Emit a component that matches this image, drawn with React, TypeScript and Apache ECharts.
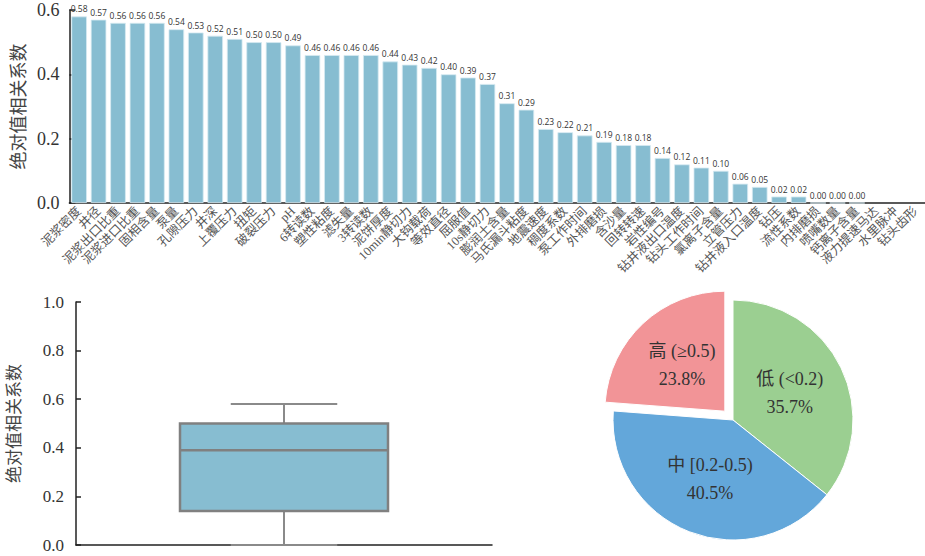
import React, { useEffect, useRef } from "react";
import * as echarts from "echarts";

const categories = [
  "泥浆密度", "井径", "泥浆出口比重", "泥浆进口比重", "固相含量", "泵量", "孔隙压力", "井深",
  "上覆压力", "扭矩", "破裂压力", "pH", "6转读数", "塑性粘度", "滤失量", "3转读数",
  "泥饼厚度", "10min静切力", "大钩载荷", "等效直径", "屈服值", "10s静切力", "膨润土含量",
  "马氏漏斗粘度", "地震速度", "稠度系数", "泵工作时间", "外排磨损", "含沙量", "回转转速",
  "岩性编号", "钻井液出口温度", "钻头工作时间", "氯离子含量", "立管压力", "钻井液入口温度",
  "钻压", "流性系数", "内排磨损", "喷嘴数量", "钙离子含量", "液力提速马达", "水里脉冲", "钻头齿形",
];
const correlations: (number | null)[] = [
  0.58, 0.57, 0.56, 0.56, 0.56, 0.54, 0.53, 0.52, 0.51, 0.50, 0.50, 0.49, 0.46, 0.46, 0.46, 0.46,
  0.44, 0.43, 0.42, 0.40, 0.39, 0.37, 0.31, 0.29, 0.23, 0.22, 0.21, 0.19, 0.18, 0.18, 0.14, 0.12,
  0.11, 0.10, 0.06, 0.05, 0.02, 0.02, 0.0, 0.0, 0.0, null, null, null,
];
// [min, Q1, median, Q3, max]
const boxStats = [0.0, 0.14, 0.39, 0.50, 0.58];
const pieNames = ["低 (<0.2)", "中 [0.2-0.5)", "高 (≥0.5)"];
const pieValues = [35.7, 40.5, 23.8];
const pieColors = ["#9BCF91", "#63A7DA", "#F29497"];

const SERIF = "'Liberation Serif', 'Times New Roman', 'Noto Sans CJK SC', serif";
const SANS = "'Noto Sans CJK SC', 'Noto Sans', sans-serif";
const BAR = "#87BDD1";

export default function App() {
  const ref = useRef<HTMLDivElement>(null);
  useEffect(() => {
    const chart = echarts.init(ref.current!, null, { renderer: "svg" });
    const option: any = {
      animation: false,
      backgroundColor: "#fff",
      grid: [
        { left: 62, top: 10, width: 863, height: 193, containLabel: false },
        { left: 76, top: 302, width: 416, height: 243, containLabel: false },
      ],
      xAxis: [
        {
          type: "category",
          gridIndex: 0,
          data: categories,
          axisLine: { lineStyle: { color: "#222", width: 1.5 } },
          axisTick: { inside: true, alignWithLabel: true, length: 5, lineStyle: { color: "#222", width: 1.5 } },
          axisLabel: {
            interval: 0,
            rotate: 45,
            fontSize: 12.5,
            color: "#555",
            fontFamily: SERIF,
            margin: 6,
          },
        },
        {
          type: "category",
          gridIndex: 1,
          data: [""],
          axisLine: { lineStyle: { color: "#222", width: 1.5 } },
          axisTick: { alignWithLabel: true, length: 4, lineStyle: { color: "#222", width: 1.5 } },
          axisLabel: { show: false },
        },
      ],
      yAxis: [
        {
          type: "value",
          gridIndex: 0,
          min: 0,
          max: 0.6,
          interval: 0.2,
          name: "绝对值相关系数",
          nameLocation: "middle",
          nameGap: 42,
          nameTextStyle: { fontSize: 18, color: "#444", fontFamily: SANS },
          axisLine: { show: true, lineStyle: { color: "#222", width: 1.5 } },
          axisTick: { show: true, inside: true, length: 6, lineStyle: { color: "#222", width: 1.5 } },
          axisLabel: { fontSize: 18, color: "#333", fontFamily: SERIF, formatter: (v: number) => v.toFixed(1), margin: 10 },
          splitLine: { show: false },
        },
        {
          type: "value",
          gridIndex: 1,
          min: 0,
          max: 1,
          interval: 0.2,
          name: "绝对值相关系数",
          nameLocation: "middle",
          nameGap: 55,
          nameTextStyle: { fontSize: 17, color: "#444", fontFamily: SANS },
          axisLine: { show: true, lineStyle: { color: "#222", width: 1.5 } },
          axisTick: { show: true, inside: true, length: 5, lineStyle: { color: "#222", width: 1.5 } },
          axisLabel: { fontSize: 17, color: "#333", fontFamily: SERIF, formatter: (v: number) => v.toFixed(1), margin: 12 },
          splitLine: { show: false },
        },
      ],
      series: [
        {
          type: "bar",
          xAxisIndex: 0,
          yAxisIndex: 0,
          data: correlations,
          barCategoryGap: "20%",
          itemStyle: { color: BAR, borderColor: "#d6eaf1", borderWidth: 0.8 },
          label: {
            show: true,
            position: "top",
            distance: 3,
            fontSize: 8.5,
            color: "#333",
            fontFamily: "'Open Sans', 'Noto Sans', sans-serif",
            formatter: (p: any) => (p.value == null ? "" : Number(p.value).toFixed(2)),
          },
        },
        {
          type: "custom",
          xAxisIndex: 1,
          yAxisIndex: 1,
          data: [[0, ...boxStats]],
          renderItem: (params: any, api: any) => {
            const x = api.value(0);
            const band = api.size([1, 0])[0];
            const hb = band * 0.25;
            const hc = band * 0.128;
            const pMin = api.coord([x, api.value(1)]);
            const pQ1 = api.coord([x, api.value(2)]);
            const pMed = api.coord([x, api.value(3)]);
            const pQ3 = api.coord([x, api.value(4)]);
            const pMax = api.coord([x, api.value(5)]);
            const cx = pMed[0];
            const wStyle = { stroke: "#8A8A8A", lineWidth: 2 };
            return {
              type: "group",
              children: [
                { type: "line", shape: { x1: cx, y1: pMax[1], x2: cx, y2: pQ3[1] }, style: wStyle },
                { type: "line", shape: { x1: cx, y1: pQ1[1], x2: cx, y2: pMin[1] }, style: wStyle },
                { type: "line", shape: { x1: cx - hc, y1: pMax[1], x2: cx + hc, y2: pMax[1] }, style: wStyle },
                { type: "line", shape: { x1: cx - hc, y1: pMin[1], x2: cx + hc, y2: pMin[1] }, style: wStyle },
                {
                  type: "rect",
                  shape: { x: cx - hb, y: pQ3[1], width: hb * 2, height: pQ1[1] - pQ3[1] },
                  style: { fill: BAR, stroke: "#808080", lineWidth: 2.5 },
                },
                {
                  type: "line",
                  shape: { x1: cx - hb, y1: pMed[1], x2: cx + hb, y2: pMed[1] },
                  style: { stroke: "#808080", lineWidth: 2.5 },
                },
              ],
            };
          },
        },
        {
          type: "pie",
          center: [733, 420],
          radius: 120,
          startAngle: 90,
          clockwise: true,
          selectedMode: "single",
          selectedOffset: 12,
          data: pieNames.map((n, i) => ({
            name: n,
            value: pieValues[i],
            selected: i === 2,
            itemStyle: { color: pieColors[i] },
          })),
          itemStyle: { borderColor: "#fff", borderWidth: 1 },
          label: {
            show: true,
            position: "inside",
            fontSize: 18,
            lineHeight: 28,
            color: "#333",
            fontFamily: SERIF,
            formatter: (p: any) => `${p.name}\n${Number(p.value).toFixed(1)}%`,
          },
          labelLine: { show: false },
          emphasis: { disabled: true },
        },
      ],
    };
    chart.setOption(option);
    return () => chart.dispose();
  }, []);
  return (
    <div
      ref={ref}
      style={{ position: "fixed", left: 0, top: 0, width: 925, height: 556, background: "#fff" }}
    />
  );
}
